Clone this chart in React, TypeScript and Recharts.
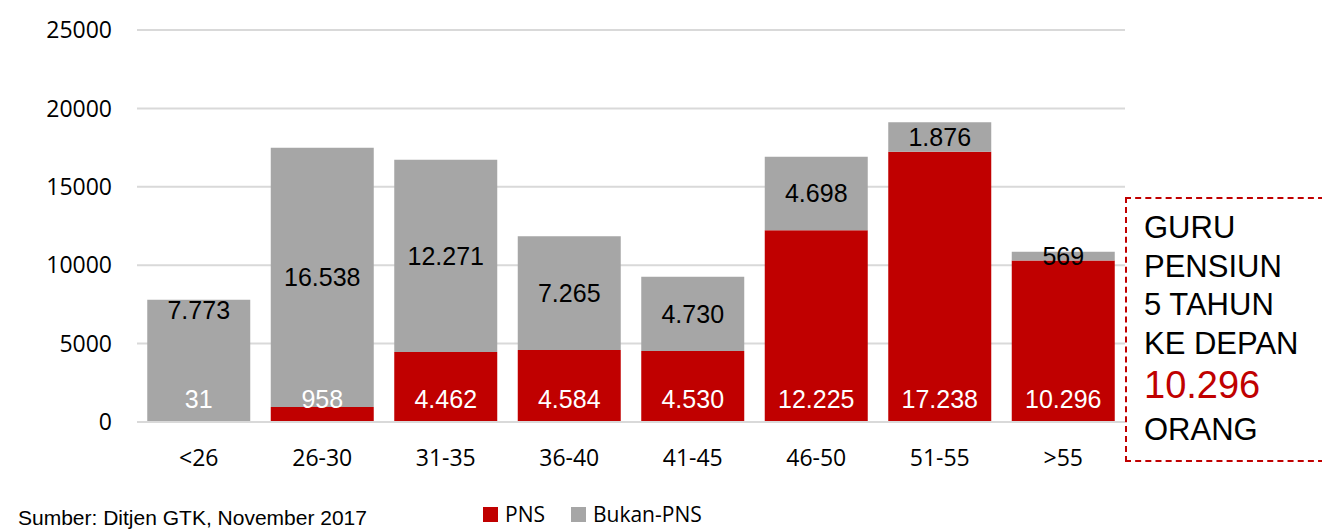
import React from "react"
import { Bar, BarChart, CartesianGrid, LabelList, Legend, XAxis, YAxis } from "recharts"

const categories = ["<26", "26-30", "31-35", "36-40", "41-45", "46-50", "51-55", ">55"]
const pns = [31, 958, 4462, 4584, 4530, 12225, 17238, 10296]
const bukanPns = [7773, 16538, 12271, 7265, 4730, 4698, 1876, 569]
const yTicks = [0, 5000, 10000, 15000, 20000, 25000]

const data = categories.map((name, i) => ({ name, pns: pns[i], bukan: bukanPns[i] }))

const RED = "#C00000"
const GRAY = "#A6A6A6"
const fmt = (v: number) => v.toLocaleString("de-DE")

const BukanLabel = (props: any) => {
  const { x, y, width, height, value, index } = props
  // first bar's label sits near the top of its segment in the original
  const cy = index === 0 ? y + 10 : y + height / 2
  return (
    <text x={x + width / 2} y={cy} dy="0.36em" textAnchor="middle" fill="#000" fontSize={25} fontFamily="'Liberation Sans', Arial, sans-serif">
      {fmt(value)}
    </text>
  )
}

const legendItems = [
  { label: "PNS", color: RED },
  { label: "Bukan-PNS", color: GRAY },
]

const LegendContent = () => (
  <div style={{ display: "flex", alignItems: "center", fontFamily: "'Open Sans', sans-serif", fontSize: 21, color: "#000" }}>
    {legendItems.map((it) => (
      <div key={it.label} style={{ display: "flex", alignItems: "center", marginRight: 26 }}>
        <span style={{ width: 15, height: 15, background: it.color, display: "inline-block", marginRight: 7 }} />
        <span>{it.label}</span>
      </div>
    ))}
  </div>
)

export default function App() {
  return (
    <div style={{ position: "absolute", left: 0, top: 0, width: 1322, height: 532, background: "#fff", overflow: "hidden" }}>
      <BarChart width={1322} height={532} data={data} margin={{ top: 30, right: 197, bottom: 20, left: 0 }} barCategoryGap="8.3%">
        <CartesianGrid vertical={false} stroke="#D9D9D9" strokeWidth={2} />
        <XAxis
          dataKey="name"
          axisLine={{ stroke: "#D9D9D9", strokeWidth: 2 }}
          tickLine={false}
          tickMargin={22}
          height={60}
          tick={{ fill: "#000", fontSize: 23, fontFamily: "'Open Sans', sans-serif" }}
        />
        <YAxis
          width={137}
          domain={[0, 25000]}
          ticks={yTicks}
          axisLine={false}
          tickLine={false}
          tickMargin={19}
          tick={{ fill: "#000", fontSize: 23, fontFamily: "'Open Sans', sans-serif" }}
        />
        <Legend verticalAlign="bottom" height={30} content={LegendContent} wrapperStyle={{ left: 483, width: 300, bottom: 2 }} />
        <Bar dataKey="pns" name="PNS" stackId="a" fill={RED} isAnimationActive={false}>
          <LabelList
            dataKey="pns"
            position="insideBottom"
            offset={14}
            fill="#fff"
            fontSize={25}
            fontFamily="'Liberation Sans', Arial, sans-serif"
            formatter={(v: any) => fmt(v)}
          />
        </Bar>
        <Bar dataKey="bukan" name="Bukan-PNS" stackId="a" fill={GRAY} isAnimationActive={false}>
          <LabelList dataKey="bukan" content={BukanLabel} />
        </Bar>
      </BarChart>
      <div
        style={{
          position: "absolute",
          left: 1125,
          top: 197,
          width: 260,
          height: 265,
          border: `2px dashed ${RED}`,
          boxSizing: "border-box",
          fontFamily: "'Liberation Sans', Arial, sans-serif",
          color: "#000",
          paddingLeft: 17,
          paddingTop: 10,
        }}
      >
        <div style={{ fontSize: 31, lineHeight: "38.5px" }}>GURU</div>
        <div style={{ fontSize: 31, lineHeight: "38.5px" }}>PENSIUN</div>
        <div style={{ fontSize: 31, lineHeight: "38.5px" }}>5 TAHUN</div>
        <div style={{ fontSize: 31, lineHeight: "38.5px" }}>KE DEPAN</div>
        <div style={{ fontSize: 38, lineHeight: "45px", color: RED }}>10.296</div>
        <div style={{ fontSize: 31, lineHeight: "44px" }}>ORANG</div>
      </div>
      <div style={{ position: "absolute", left: 18, top: 506, fontFamily: "'Liberation Sans', Arial, sans-serif", fontSize: 21, color: "#000" }}>
        Sumber: Ditjen GTK, November 2017
      </div>
    </div>
  )
}
